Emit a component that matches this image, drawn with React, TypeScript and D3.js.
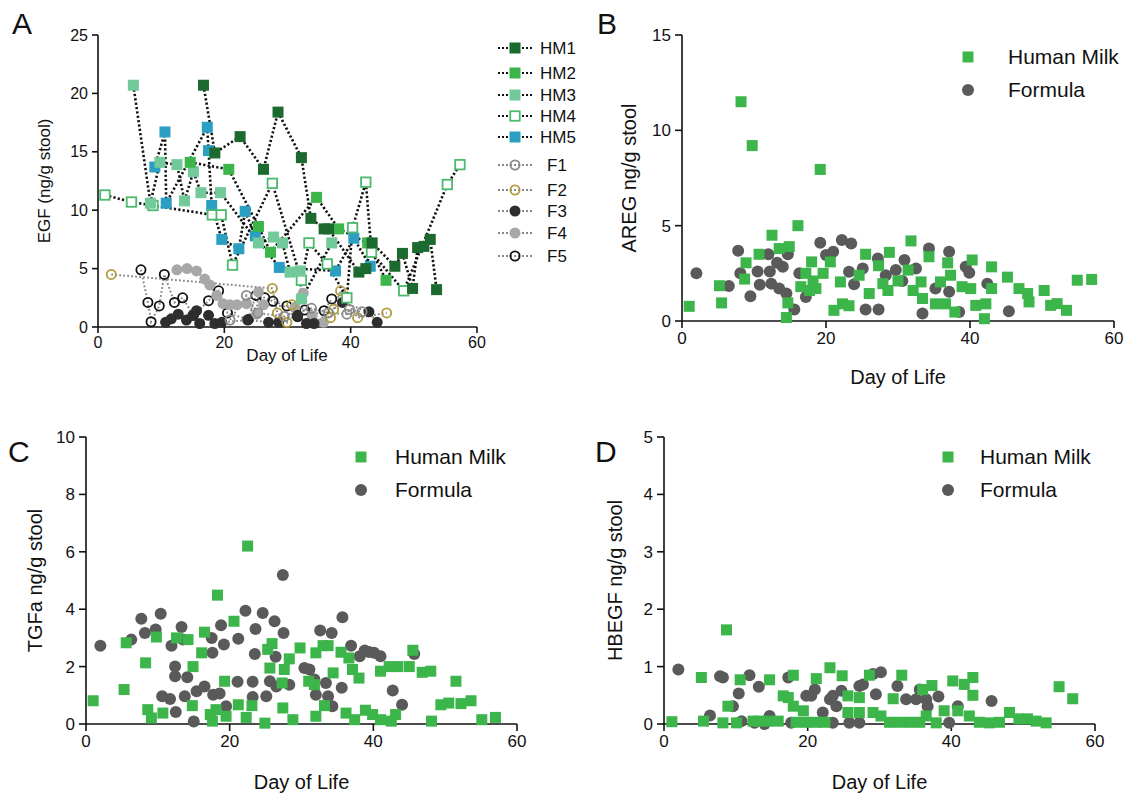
import React from "react";
import * as d3 from "d3";

// ---------- Panel A: EGF per subject (day, ng/g) ----------
const hm1 = [[16.7,20.7],[18.5,14.9],[22.5,16.3],[26.2,13.5],[28.5,18.4],[32.2,14.5],[33.7,9.3],[35.8,8.4],[36.5,8.4],[41.3,4.7],[42.4,5.0],[43.4,7.2],[47,5.2],[48.2,6.3],[49.8,3.3],[50.6,6.8],[51.6,6.9],[52.6,7.5],[53.6,3.2]];
const hm2 = [[14.6,14.1],[20.7,13.5],[25.4,8.6],[27.3,6.4],[34.6,11.1],[38.1,8.4],[42.7,7.2],[45.6,4.0]];
const hm3 = [[5.6,20.7],[8.3,10.6],[9.8,14.1],[12.5,13.9],[13.7,10.8],[15.1,13.3],[16.3,11.5],[19.4,11.5],[25.4,7.2],[27.8,7.7],[29.2,7.2],[30.4,4.7],[32,4.8],[32.2,2.4],[37,7.2]];
const hm4 = [[1.1,11.3],[5.3,10.7],[8.7,10.4],[18.1,9.6],[19.5,9.6],[21.3,5.3],[27.6,12.3],[32.2,4.0],[33.4,7.2],[36.3,5.4],[39.4,2.5],[40.3,8.5],[42.4,12.4],[43.3,6.4],[48.4,3.1],[55.3,12.2],[57.3,13.9]];
const hm5 = [[9.0,13.7],[10.6,16.7],[10.8,10.6],[17.3,17.1],[17.5,15.1],[18.0,10.4],[19.6,7.5],[22.3,6.7],[23.3,9.9],[24.9,7.8],[28.7,5.1],[37.6,4.8],[40.5,7.6],[43.1,5.2]];
const f1 = [[20.9,0.6],[23.5,2.7],[25.3,1.2],[29.5,0.9],[33.8,1.6],[36.5,1.2],[39.4,1.1],[39.8,1.5],[41.8,1.3]];
const f2 = [[2.1,4.5],[27.6,3.3],[28.4,1.2],[29.9,0.4],[30.7,1.9],[36.8,0.8],[37.3,1.5],[38.4,3.1],[41.1,0.8],[45.7,1.2]];
const f3 = [[10.7,0.4],[11.6,0.7],[12.7,1.1],[14.0,0.6],[15.0,1.0],[15.6,1.4],[16.1,0.3],[17.5,1.0],[18.5,0.3],[19.6,0.4],[23.7,0.6],[27.0,0.4],[28.6,0.4],[31.6,1.0],[33.0,0.3],[34.2,0.3],[38.7,2.1],[42.9,1.3],[44.2,0.4]];
const f4 = [[12.5,4.9],[14.1,5.0],[15.6,4.8],[16.9,4.1],[17.7,3.6],[18.8,2.7],[19.8,2.0],[20.9,1.9],[22.0,1.9],[23.5,2.0],[25.1,1.1],[25.4,3.0],[26.2,1.9],[31.2,1.7],[32.5,2.9],[33.9,0.9],[35.7,0.4]];
const f5 = [[6.8,4.9],[7.9,2.1],[8.4,0.45],[9.7,1.8],[10.5,4.5],[12.1,2.1],[13.4,2.5],[15.1,1.0],[17.5,2.25],[19.1,3.1],[20.5,1.2],[23.8,0.65],[25.0,2.7],[26.4,2.5],[27.7,2.2],[29.9,1.8],[31.6,0.9],[32.7,1.45],[35.8,1.4],[37.0,2.4]];

// ---------- Panel B: AREG ----------
const aregMilk = [[8.2,11.5],[9.75,9.2],[19.2,7.95],[16.1,5.0],[12.5,4.5],[13.5,3.8],[14.9,3.9],[10.7,3.5],[8.9,3.05],[8.7,2.2],[5.2,1.85],[5.5,0.95],[1.0,0.77],[14.5,0.18],[14.7,0.95],[16.5,1.8],[17.2,2.5],[18.0,3.1],[18.6,1.7],[17.7,1.6],[18.2,2.1],[19.6,2.5],[20.6,3.1],[22.0,2.05],[22.3,0.9],[23.2,0.8],[21.1,0.56],[24.6,2.4],[25.5,3.5],[26.0,1.44],[27.3,2.9],[27.9,1.96],[28.6,1.6],[28.8,3.6],[30.0,2.1],[31.4,2.67],[31.8,4.2],[32.1,1.6],[33.4,1.18],[33.2,2.05],[34.3,3.37],[35.9,2.05],[35.2,0.9],[36.6,0.9],[36.9,3.05],[37.3,2.4],[37.9,0.47],[38.9,1.8],[40.1,1.7],[40.3,3.2],[40.8,0.82],[42.2,0.9],[42.0,0.12],[43.0,2.84],[43.0,1.7],[45.2,2.3],[46.8,1.7],[48.0,1.44],[48.2,1.0],[50.3,1.6],[51.2,0.82],[52.1,0.91],[53.4,0.56],[54.9,2.14],[56.9,2.18]];
const aregFormula = [[2.0,2.5],[6.5,1.84],[7.8,3.68],[8.1,2.5],[9.5,1.3],[10.5,2.6],[10.8,1.9],[12.0,3.5],[12.2,2.6],[12.4,1.96],[13.2,3.05],[14.0,2.85],[14.7,3.5],[13.5,1.7],[14.5,1.44],[15.6,0.6],[16.3,2.5],[17.2,1.26],[19.2,4.1],[20.0,3.46],[21.0,3.63],[22.2,4.25],[23.5,4.07],[23.2,2.58],[23.9,1.93],[25.1,2.75],[27.2,3.28],[28.3,2.4],[25.5,0.6],[27.3,0.6],[29.7,2.67],[30.6,2.1],[30.9,3.2],[32.5,2.75],[34.3,3.8],[35.2,1.7],[37.1,3.63],[37.1,1.53],[33.4,0.39],[38.5,0.47],[39.4,2.84],[39.9,2.53],[42.4,1.96],[45.4,0.51]];

// ---------- Panel C: TGFa ----------
const tgfMilk = [[1.0,0.81],[5.3,1.2],[5.6,2.83],[8.3,2.13],[8.6,0.5],[9.1,0.21],[10.7,0.38],[9.8,3.03],[12.6,3.0],[14.2,2.94],[16.5,3.2],[16.1,2.48],[14.9,2.0],[14.8,0.64],[18.3,4.49],[17.3,0.33],[18.1,0.5],[17.6,0.1],[19.5,0.27],[19.3,1.49],[20.6,3.58],[21.2,0.67],[22.3,0.23],[22.5,6.2],[23.1,0.64],[24.9,0.03],[25.3,2.6],[25.9,2.8],[25.6,1.95],[27.4,0.56],[27.6,1.9],[27.3,1.43],[28.3,2.27],[28.8,0.15],[29.8,2.65],[31.0,1.49],[31.8,1.37],[32.0,0.27],[32.0,2.48],[33.0,2.73],[33.7,2.73],[33.2,0.64],[34.4,1.78],[35.5,2.5],[36.2,0.38],[36.6,2.3],[37.1,1.9],[38.0,1.6],[37.4,0.15],[38.9,0.48],[39.9,0.33],[41.0,1.84],[41.0,0.15],[42.2,2.0],[43.4,2.0],[42.5,0.1],[43.1,0.33],[45.0,2.0],[45.5,2.57],[46.8,1.8],[48.0,1.84],[48.1,0.1],[49.4,0.67],[50.5,0.73],[51.5,1.49],[52.2,0.71],[53.6,0.81],[55.1,0.15],[57.0,0.23]];
const tgfFormula = [[2.0,2.73],[6.3,2.94],[7.7,3.67],[8.2,3.17],[9.7,3.29],[10.4,3.84],[10.6,0.97],[11.7,0.87],[12.5,0.42],[12.4,2.0],[12.4,1.66],[11.9,2.73],[13.3,3.38],[13.5,2.94],[14.1,1.63],[13.75,0.97],[15.0,0.09],[15.4,1.14],[16.5,1.31],[17.5,3.0],[17.6,2.48],[17.7,1.02],[18.6,1.06],[18.8,3.44],[19.2,2.77],[19.5,0.62],[21.1,1.47],[21.2,2.97],[22.2,3.95],[23.2,1.47],[23.5,2.44],[23.6,3.31],[23.2,0.94],[24.6,3.87],[25.1,0.97],[25.6,1.49],[26.25,3.58],[26.4,2.34],[26.5,1.31],[27.4,5.19],[27.5,3.17],[28.3,1.37],[30.4,1.95],[31.1,1.9],[31.8,1.55],[32.0,1.02],[32.6,3.26],[33.4,1.43],[33.7,0.97],[34.2,3.17],[34.3,0.62],[35.6,1.26],[35.7,3.72],[36.9,2.73],[38.1,2.36],[38.8,2.56],[39.4,2.51],[40.1,2.48],[41.0,2.36],[42.7,1.17],[44.0,0.67],[45.7,2.44]];

// ---------- Panel D: HBEGF ----------
const hbMilk = [[1.1,0.04],[5.2,0.81],[5.5,0.05],[8.2,0.02],[8.7,1.64],[8.9,0.31],[10.6,0.77],[10.1,0.02],[12.4,0.05],[13.3,0.05],[14.5,0.05],[15.9,0.05],[14.7,0.77],[16.6,0.49],[17.3,0.46],[18.0,0.85],[18.0,0.31],[19.4,0.23],[18.4,0.03],[19.8,0.03],[21.2,0.03],[22.4,0.03],[21.2,0.79],[23.1,0.98],[24.8,0.84],[25.6,0.49],[25.6,0.2],[27.2,0.46],[27.2,0.2],[28.6,0.85],[29.1,0.2],[30.2,0.14],[31.9,0.44],[31.4,0.03],[32.8,0.03],[34.2,0.03],[35.6,0.03],[33.1,0.85],[36.0,0.6],[37.3,0.67],[36.5,0.14],[37.9,0.02],[39.0,0.23],[40.2,0.75],[40.9,0.23],[41.8,0.69],[43.0,0.81],[43.0,0.5],[42.5,0.14],[43.9,0.03],[45.3,0.02],[46.7,0.03],[48.1,0.2],[49.4,0.09],[50.6,0.09],[51.8,0.05],[53.2,0.02],[55.0,0.65],[56.9,0.44]];
const hbFormula = [[2.0,0.95],[6.4,0.15],[7.8,0.83],[8.2,0.81],[9.6,0.31],[10.4,0.53],[10.8,0.05],[11.9,0.85],[13.2,0.65],[12.6,0.02],[14.0,0.0],[14.7,0.14],[17.3,0.81],[17.7,0.02],[19.8,0.49],[20.5,0.49],[21.0,0.6],[22.1,0.2],[23.1,0.43],[23.5,0.49],[24.0,0.31],[24.7,0.58],[23.5,0.02],[25.8,0.02],[27.2,0.02],[27.2,0.66],[27.7,0.69],[29.1,0.87],[30.2,0.9],[29.5,0.52],[32.5,0.66],[33.7,0.43],[35.1,0.43],[36.5,0.43],[35.6,0.6],[36.7,0.31],[38.2,0.48],[39.7,0.02],[40.9,0.31],[45.6,0.4]];

const xTicks = [0, 20, 40, 60];
const font = "'Liberation Sans', Arial, sans-serif";
const milkGreen = "#3cb54a";
const formulaGray = "#5a5a5a";

type Pt = number[];
type Series = { name: string; data: Pt[]; shape: "sq" | "circ"; fill: string; stroke: string; line: string };

const egfSeries: Series[] = [
  { name: "HM1", data: hm1, shape: "sq", fill: "#1d6a30", stroke: "#1d6a30", line: "#111" },
  { name: "HM2", data: hm2, shape: "sq", fill: "#3cb54a", stroke: "#3cb54a", line: "#111" },
  { name: "HM3", data: hm3, shape: "sq", fill: "#72c99a", stroke: "#72c99a", line: "#111" },
  { name: "HM4", data: hm4, shape: "sq", fill: "#fff", stroke: "#4cba6c", line: "#111" },
  { name: "HM5", data: hm5, shape: "sq", fill: "#2a9fc2", stroke: "#2a9fc2", line: "#111" },
  { name: "F1", data: f1, shape: "circ", fill: "#fff", stroke: "#8a8a8a", line: "#888" },
  { name: "F2", data: f2, shape: "circ", fill: "#fff", stroke: "#b39a3e", line: "#888" },
  { name: "F3", data: f3, shape: "circ", fill: "#2e2e2e", stroke: "#2e2e2e", line: "#888" },
  { name: "F4", data: f4, shape: "circ", fill: "#a8a8a8", stroke: "#a8a8a8", line: "#888" },
  { name: "F5", data: f5, shape: "circ", fill: "#fff", stroke: "#111", line: "#888" },
];
const legendY = [48, 73, 95, 116, 137, 165, 190, 211, 233, 256];

function Marker({ x, y, s }: { x: number; y: number; s: Series }) {
  if (s.shape === "sq") {
    const open = s.fill === "#fff";
    const w = open ? 9.5 : 11;
    return <rect x={x - w / 2} y={y - w / 2} width={w} height={w} fill={s.fill} stroke={open ? s.stroke : "none"} strokeWidth={1.8} />;
  }
  const open = s.fill === "#fff";
  return <circle cx={x} cy={y} r={open ? 4.6 : 5.5} fill={open ? "none" : s.fill} stroke={open ? s.stroke : "none"} strokeWidth={1.8} />;
}

function Axes({ x, y, yTicks, fs, tl }: { x: d3.ScaleLinear<number, number>; y: d3.ScaleLinear<number, number>; yTicks: number[]; fs: number; tl: number }) {
  const [x0, x1] = x.range();
  const [y0, y1] = y.range();
  return (
    <g stroke="#111" strokeWidth={1.6} fontFamily={font} fontSize={fs}>
      <line x1={x0} x2={x1} y1={y0} y2={y0} />
      <line x1={x0} x2={x0} y1={y0} y2={y1} />
      {xTicks.map((t) => (
        <g key={"x" + t}>
          <line x1={x(t)} x2={x(t)} y1={y0} y2={y0 + tl} />
          <text x={x(t)} y={y0 + tl + fs * 0.95} textAnchor="middle" stroke="none" fill="#111">{t}</text>
        </g>
      ))}
      {yTicks.map((t) => (
        <g key={"y" + t}>
          <line x1={x0 - tl} x2={x0} y1={y(t)} y2={y(t)} />
          <text x={x0 - tl - 4} y={y(t) + fs * 0.35} textAnchor="end" stroke="none" fill="#111">{t}</text>
        </g>
      ))}
    </g>
  );
}

function Scatter({ x, y, milk, formula, lx, ly, tx, yLabel, labX, xLabY, letter, letX, letY, yTicks }: any) {
  const [x0, x1] = x.range();
  const [y0, y1] = y.range();
  return (
    <g>
      <Axes x={x} y={y} yTicks={yTicks} fs={17} tl={7} />
      {formula.map((d: Pt, i: number) => (
        <circle key={"f" + i} cx={x(d[0])} cy={y(d[1])} r={6} fill={formulaGray} />
      ))}
      {milk.map((d: Pt, i: number) => (
        <rect key={"m" + i} x={x(d[0]) - 5.5} y={y(d[1]) - 5.5} width={11} height={11} fill={milkGreen} />
      ))}
      <rect x={lx - 5.5} y={ly - 5.5} width={11} height={11} fill={milkGreen} />
      <circle cx={lx} cy={ly + 33} r={6} fill={formulaGray} />
      <text x={lx + tx} y={ly + 7} fontFamily={font} fontSize={21} fill="#111">Human Milk</text>
      <text x={lx + tx} y={ly + 40} fontFamily={font} fontSize={21} fill="#111">Formula</text>
      <text transform={`translate(${labX},${(y0 + y1) / 2}) rotate(-90)`} textAnchor="middle" fontFamily={font} fontSize={20} fill="#111">{yLabel}</text>
      <text x={(x0 + x1) / 2} y={xLabY} textAnchor="middle" fontFamily={font} fontSize={20} fill="#111">Day of Life</text>
      <text x={letX} y={letY} fontFamily={font} fontSize={30} fill="#111">{letter}</text>
    </g>
  );
}

export default function App() {
  const xA = d3.scaleLinear().domain([0, 60]).range([98, 477]);
  const yA = d3.scaleLinear().domain([0, 25]).range([327, 35]);
  const xB = d3.scaleLinear().domain([0, 60]).range([682, 1114]);
  const yB = d3.scaleLinear().domain([0, 15]).range([321, 35]);
  const xC = d3.scaleLinear().domain([0, 60]).range([86, 517]);
  const yC = d3.scaleLinear().domain([0, 10]).range([724, 437]);
  const xD = d3.scaleLinear().domain([0, 60]).range([664, 1095]);
  const yD = d3.scaleLinear().domain([0, 5]).range([724, 437]);

  const line = d3.line<Pt>().x((d) => xA(d[0])).y((d) => yA(d[1]));
  const sorted = (a: Pt[]) => [...a].sort((p, q) => p[0] - q[0]);

  return (
    <svg width={1128} height={794} style={{ position: "absolute", left: 0, top: 0, background: "#fff" }}>
      <rect width={1128} height={794} fill="#fff" />
      {/* Panel A */}
      <Axes x={xA} y={yA} yTicks={[0, 5, 10, 15, 20, 25]} fs={16} tl={6} />
      {egfSeries.slice().reverse().map((s) => (
        <path key={"l" + s.name} d={line(sorted(s.data)) || ""} fill="none" stroke={s.line}
          strokeWidth={s.shape === "sq" ? 2.6 : 2} strokeDasharray={s.shape === "sq" ? "2.2,2.2" : "1.8,2.2"} />
      ))}
      {egfSeries.slice().reverse().map((s) => (
        <g key={"m" + s.name}>
          {s.data.map((d, i) => <Marker key={i} x={xA(d[0])} y={yA(d[1])} s={s} />)}
        </g>
      ))}
      {egfSeries.map((s, i) => (
        <g key={"lg" + s.name}>
          <line x1={498} x2={533} y1={legendY[i]} y2={legendY[i]} stroke={s.line} strokeWidth={2.2} strokeDasharray="2,2" />
          <Marker x={515} y={legendY[i]} s={s} />
          <text x={s.shape === "sq" ? 540 : 547} y={legendY[i] + 6} fontFamily={font} fontSize={17} fill="#111">{s.name}</text>
        </g>
      ))}
      <text transform={`translate(50,${(yA(0) + yA(25)) / 2}) rotate(-90)`} textAnchor="middle" fontFamily={font} fontSize={17} fill="#111">EGF (ng/g stool)</text>
      <text x={287} y={361} textAnchor="middle" fontFamily={font} fontSize={17} fill="#111">Day of Life</text>
      <text x={12} y={34} fontFamily={font} fontSize={30} fill="#111">A</text>

      <Scatter x={xB} y={yB} milk={aregMilk} formula={aregFormula} lx={968} ly={57} tx={40} yLabel="AREG ng/g stool"
        labX={636} xLabY={384} letter="B" letX={597} letY={34} yTicks={[0, 5, 10, 15]} />
      <Scatter x={xC} y={yC} milk={tgfMilk} formula={tgfFormula} lx={361} ly={457} tx={34} yLabel="TGFa ng/g stool"
        labX={42} xLabY={789} letter="C" letX={8} letY={462} yTicks={[0, 2, 4, 6, 8, 10]} />
      <Scatter x={xD} y={yD} milk={hbMilk} formula={hbFormula} lx={948} ly={457} tx={32} yLabel="HBEGF ng/g stool"
        labX={622} xLabY={789} letter="D" letX={595} letY={462} yTicks={[0, 1, 2, 3, 4, 5]} />
    </svg>
  );
}
